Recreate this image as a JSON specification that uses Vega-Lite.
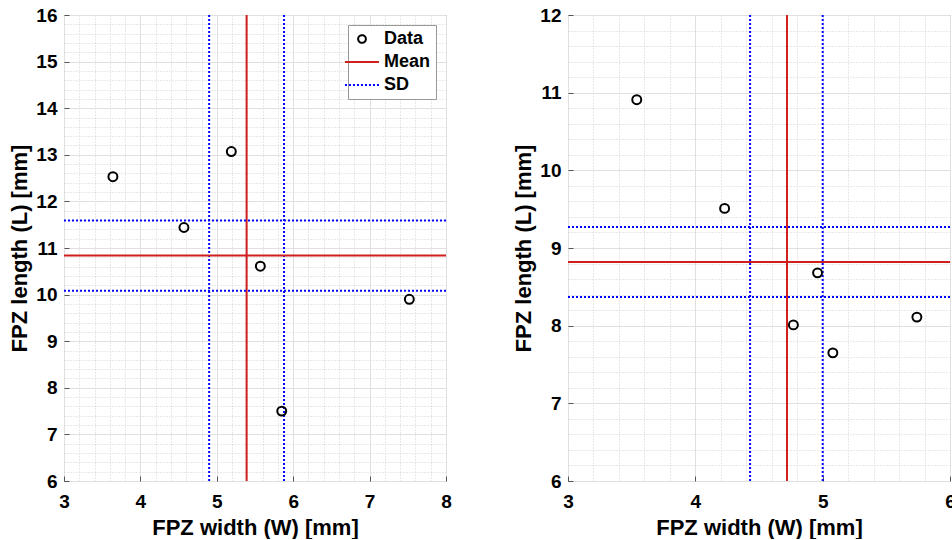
{
  "$schema": "https://vega.github.io/schema/vega-lite/v6.json",
  "background": "white",
  "padding": {"left": 8, "top": 5, "right": 0, "bottom": 0},
  "bounds": "flush",
  "spacing": 122,
  "config": {
    "view": {"stroke": "#8f8f8f", "strokeWidth": 1},
    "font": "Liberation Sans",
    "axis": {
      "labelFont": "Liberation Sans", "labelFontWeight": "bold", "labelFontSize": 19, "labelColor": "#000000",
      "titleFont": "Liberation Sans", "titleFontWeight": "bold", "titleFontSize": 22, "titleColor": "#000000",
      "domain": false, "labelFlush": false, "tickColor": "#555555", "tickWidth": 1, "tickSize": -5,
      "grid": true, "labelOverlap": false, "tickCount": 200,
      "gridColor": {"condition": {"test": "abs(datum.value - round(datum.value)) > 0.01", "value": "#d0d0d0"}, "value": "#e0e0e0"},
      "gridDash": {"condition": {"test": "abs(datum.value - round(datum.value)) > 0.01", "value": [1, 2]}, "value": []},
      "tickOpacity": {"condition": {"test": "abs(datum.value - round(datum.value)) > 0.01", "value": 0}, "value": 1},
      "labelExpr": "abs(datum.value - round(datum.value)) > 0.01 ? '' : '' + round(datum.value)"
    },
    "legend": {"labelFont": "Liberation Sans", "labelFontWeight": "bold", "labelFontSize": 18, "labelColor": "#000000"}
  },
  "resolve": {
    "scale": {"color": "independent", "shape": "independent", "strokeDash": "independent"},
    "legend": {"color": "independent", "shape": "independent", "strokeDash": "independent"}
  },
  "datasets": {
    "ptsA": [
      {"type": "Data", "w": 3.64, "l": 12.53},
      {"type": "Data", "w": 4.57, "l": 11.44},
      {"type": "Data", "w": 5.19, "l": 13.07},
      {"type": "Data", "w": 5.57, "l": 10.61},
      {"type": "Data", "w": 7.52, "l": 9.90},
      {"type": "Data", "w": 5.85, "l": 7.50}
    ],
    "linesA": [
      {"type": "Mean", "dir": "v", "value": 5.39},
      {"type": "SD", "dir": "v", "value": 4.90},
      {"type": "SD", "dir": "v", "value": 5.88},
      {"type": "Mean", "dir": "h", "value": 10.84},
      {"type": "SD", "dir": "h", "value": 11.59},
      {"type": "SD", "dir": "h", "value": 10.08}
    ],
    "ptsB": [
      {"type": "Data", "w": 3.54, "l": 10.91},
      {"type": "Data", "w": 4.23, "l": 9.51},
      {"type": "Data", "w": 4.96, "l": 8.68},
      {"type": "Data", "w": 4.77, "l": 8.01},
      {"type": "Data", "w": 5.08, "l": 7.65},
      {"type": "Data", "w": 5.74, "l": 8.11}
    ],
    "linesB": [
      {"type": "Mean", "dir": "v", "value": 4.72},
      {"type": "SD", "dir": "v", "value": 4.43},
      {"type": "SD", "dir": "v", "value": 5.00},
      {"type": "Mean", "dir": "h", "value": 8.82},
      {"type": "SD", "dir": "h", "value": 9.27},
      {"type": "SD", "dir": "h", "value": 8.37}
    ]
  },
  "hconcat": [
    {
      "width": 382,
      "height": 466,
      "layer": [
        {
          "data": {"name": "linesA"},
          "transform": [{"filter": "datum.dir == 'v'"}],
          "mark": {"type": "rule", "strokeWidth": 2},
          "encoding": {
            "x": {"field": "value", "type": "quantitative", "scale": {"domain": [3, 8], "nice": false, "zero": false}},
            "color": {"field": "type", "type": "nominal", "scale": {"domain": ["Data", "Mean", "SD"], "range": ["#000000", "#d01f1f", "#0000ff"]},
              "legend": {"title": null, "orient": "top-right", "offset": 10, "fillColor": "white", "strokeColor": "#999999", "padding": 5,
                "labelFont": "Liberation Sans", "labelFontWeight": "bold", "labelFontSize": 18, "labelColor": "#000000",
                "symbolStrokeWidth": 2, "symbolSize": 60, "rowPadding": 5, "labelOffset": 13, "cornerRadius": 0,
                "encode": {"labels": {"update": {"fontWeight": {"value": "bold"}}}}}},
            "strokeDash": {"field": "type", "type": "nominal", "scale": {"domain": ["Data", "Mean", "SD"], "range": [[1, 0], [1, 0], [2, 2]]}}
          }
        },
        {
          "data": {"name": "linesA"},
          "transform": [{"filter": "datum.dir == 'h'"}],
          "mark": {"type": "rule", "strokeWidth": 2},
          "encoding": {
            "y": {"field": "value", "type": "quantitative", "scale": {"domain": [6, 16], "nice": false, "zero": false}},
            "color": {"field": "type", "type": "nominal"},
            "strokeDash": {"field": "type", "type": "nominal"}
          }
        },
        {
          "data": {"name": "ptsA"},
          "mark": {"type": "point", "filled": false, "size": 80, "strokeWidth": 2, "opacity": 1},
          "encoding": {
            "x": {"field": "w", "type": "quantitative",
              "axis": {"orient": "bottom", "labelOverlap": false, "tickCount": 200, "values": [3,3.2,3.4,3.6,3.8,4,4.2,4.4,4.6,4.8,5,5.2,5.4,5.6,5.8,6,6.2,6.4,6.6,6.8,7,7.2,7.4,7.6,7.8,8],
                "labelPadding": 16, "title": "FPZ width (W) [mm]", "titlePadding": 6}},
            "y": {"field": "l", "type": "quantitative",
              "axis": {"orient": "left", "labelOverlap": false, "tickCount": 200, "values": [6,6.2,6.4,6.6,6.8,7,7.2,7.4,7.6,7.8,8,8.2,8.4,8.6,8.8,9,9.2,9.4,9.6,9.8,10,10.2,10.4,10.6,10.8,11,11.2,11.4,11.6,11.8,12,12.2,12.4,12.6,12.8,13,13.2,13.4,13.6,13.8,14,14.2,14.4,14.6,14.8,15,15.2,15.4,15.6,15.8,16],
                "labelPadding": 12, "title": "FPZ length (L) [mm]", "titlePadding": 4}},
            "color": {"field": "type", "type": "nominal"},
            "shape": {"field": "type", "type": "nominal", "scale": {"domain": ["Data", "Mean", "SD"], "range": ["circle", "M-4.4,0H4.4", "M-4.4,0H4.4"]}}
          }
        }
      ]
    },
    {
      "width": 382,
      "height": 466,
      "layer": [
        {
          "data": {"name": "linesB"},
          "transform": [{"filter": "datum.dir == 'v' && datum.type == 'Mean'"}],
          "mark": {"type": "rule", "strokeWidth": 2, "color": "#d01f1f"},
          "encoding": {
            "x": {"field": "value", "type": "quantitative", "scale": {"domain": [3, 6], "nice": false, "zero": false}}
          }
        },
        {
          "data": {"name": "linesB"},
          "transform": [{"filter": "datum.dir == 'v' && datum.type == 'SD'"}],
          "mark": {"type": "rule", "strokeWidth": 2, "color": "#0000ff", "strokeDash": [2, 2]},
          "encoding": {
            "x": {"field": "value", "type": "quantitative"}
          }
        },
        {
          "data": {"name": "linesB"},
          "transform": [{"filter": "datum.dir == 'h' && datum.type == 'Mean'"}],
          "mark": {"type": "rule", "strokeWidth": 2, "color": "#d01f1f"},
          "encoding": {
            "y": {"field": "value", "type": "quantitative", "scale": {"domain": [6, 12], "nice": false, "zero": false}}
          }
        },
        {
          "data": {"name": "linesB"},
          "transform": [{"filter": "datum.dir == 'h' && datum.type == 'SD'"}],
          "mark": {"type": "rule", "strokeWidth": 2, "color": "#0000ff", "strokeDash": [2, 2]},
          "encoding": {
            "y": {"field": "value", "type": "quantitative"}
          }
        },
        {
          "data": {"name": "ptsB"},
          "mark": {"type": "point", "shape": "circle", "filled": false, "size": 80, "strokeWidth": 2, "opacity": 1, "color": "#000000"},
          "encoding": {
            "x": {"field": "w", "type": "quantitative",
              "axis": {"orient": "bottom", "labelOverlap": false, "tickCount": 200, "values": [3,3.2,3.4,3.6,3.8,4,4.2,4.4,4.6,4.8,5,5.2,5.4,5.6,5.8,6],
                "labelPadding": 16, "title": "FPZ width (W) [mm]", "titlePadding": 6}},
            "y": {"field": "l", "type": "quantitative",
              "axis": {"orient": "left", "labelOverlap": false, "tickCount": 200, "values": [6,6.2,6.4,6.6,6.8,7,7.2,7.4,7.6,7.8,8,8.2,8.4,8.6,8.8,9,9.2,9.4,9.6,9.8,10,10.2,10.4,10.6,10.8,11,11.2,11.4,11.6,11.8,12],
                "labelPadding": 12, "title": "FPZ length (L) [mm]", "titlePadding": 4}}
          }
        }
      ]
    }
  ]
}
